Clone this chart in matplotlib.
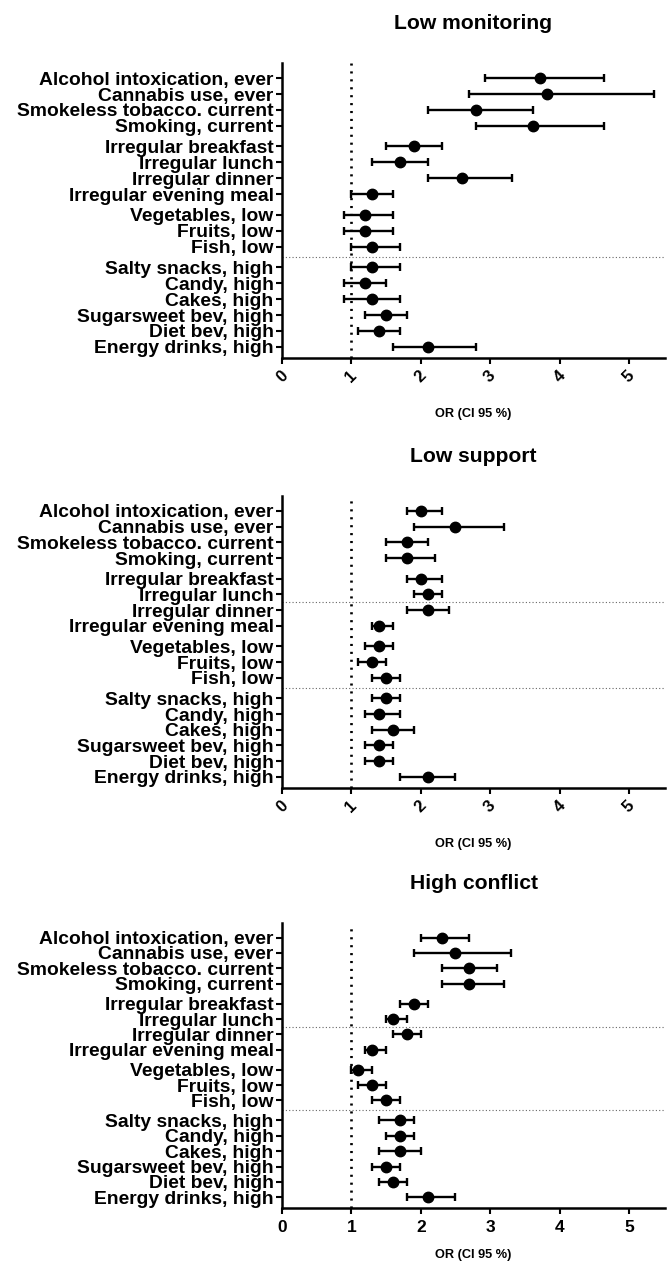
import numpy as np
import matplotlib.pyplot as plt

labels = ["Alcohol intoxication, ever", "Cannabis use, ever", "Smokeless tobacco. current",
          "Smoking, current", "Irregular breakfast", "Irregular lunch", "Irregular dinner",
          "Irregular evening meal", "Vegetables, low", "Fruits, low", "Fish, low",
          "Salty snacks, high", "Candy, high", "Cakes, high", "Sugarsweet bev, high",
          "Diet bev, high", "Energy drinks, high"]
group_sizes = [4, 4, 3, 6]

titles = ["Low monitoring", "Low support", "High conflict"]

# odds ratios and 95% CI
mon_or = [3.72, 3.82, 2.8, 3.62, 1.9, 1.7, 2.6, 1.3, 1.2, 1.2, 1.3, 1.3, 1.2, 1.3, 1.5, 1.4, 2.1]
mon_lo = [2.92, 2.7, 2.1, 2.8, 1.5, 1.3, 2.1, 1.0, 0.9, 0.9, 1.0, 1.0, 0.9, 0.9, 1.2, 1.1, 1.6]
mon_hi = [4.64, 5.36, 3.62, 4.64, 2.3, 2.1, 3.32, 1.6, 1.6, 1.6, 1.7, 1.7, 1.5, 1.7, 1.8, 1.7, 2.8]

sup_or = [2.0, 2.5, 1.8, 1.8, 2.0, 2.1, 2.1, 1.4, 1.4, 1.3, 1.5, 1.5, 1.4, 1.6, 1.4, 1.4, 2.1]
sup_lo = [1.8, 1.9, 1.5, 1.5, 1.8, 1.9, 1.8, 1.3, 1.2, 1.1, 1.3, 1.3, 1.2, 1.3, 1.2, 1.2, 1.7]
sup_hi = [2.3, 3.2, 2.1, 2.2, 2.3, 2.3, 2.4, 1.6, 1.6, 1.5, 1.7, 1.7, 1.7, 1.9, 1.6, 1.6, 2.5]

con_or = [2.3, 2.5, 2.7, 2.7, 1.9, 1.6, 1.8, 1.3, 1.1, 1.3, 1.5, 1.7, 1.7, 1.7, 1.5, 1.6, 2.1]
con_lo = [2.0, 1.9, 2.3, 2.3, 1.7, 1.5, 1.6, 1.2, 1.0, 1.1, 1.3, 1.4, 1.5, 1.4, 1.3, 1.4, 1.8]
con_hi = [2.7, 3.3, 3.1, 3.2, 2.1, 1.8, 2.0, 1.5, 1.3, 1.5, 1.7, 1.9, 1.9, 2.0, 1.7, 1.8, 2.5]

panels = [(mon_or, mon_lo, mon_hi), (sup_or, sup_lo, sup_hi), (con_or, con_lo, con_hi)]
separators = [[11.25], [5.8, 11.25], [5.8, 11.25]]

# row positions, small gap between groups
ypos = []
y = 0
for n in group_sizes:
    for i in range(n):
        ypos.append(y)
        y += 1
    y += 0.3

plt.rcParams['font.family'] = ['Liberation Sans', 'DejaVu Sans']
plt.rcParams['font.weight'] = 'bold'

W, H = 667, 1262
fig = plt.figure(figsize=(W / 100, H / 100), dpi=100)

# (top, bottom) of each axes box in pixels
boxes = [(63, 358), (496, 788), (923, 1208)]
left, right = 282, 665
xlab_off = [40, 40, 34]

for k, (vals, (top, bot)) in enumerate(zip(panels, boxes)):
    ax = fig.add_axes([left / W, 1 - bot / H, (right - left) / W, (bot - top) / H])
    o, lo, hi = [np.array(v) for v in vals]
    ax.errorbar(o, ypos, xerr=[o - lo, hi - o], fmt='o', color='black', ms=7.5,
                elinewidth=1.7, capsize=3.2, capthick=1.7, zorder=3)
    ax.axvline(1, color='black', ls=(0, (0.8, 2.2)), lw=1.9, zorder=1)
    for s in separators[k]:
        ax.axhline(s, color='#666666', ls=(0, (1, 2)), lw=0.8, zorder=1)

    ax.set_xlim(0, 5.52)
    ax.set_ylim(17.6, -0.95)
    ax.set_yticks(ypos)
    ax.set_yticklabels(labels, fontsize=13.9, fontweight='bold')
    ax.set_xticks(range(6))
    if k < 2:
        ax.set_xticklabels([str(i) for i in range(6)], rotation=45, ha='center',
                           fontsize=12, fontweight='bold')
    else:
        ax.set_xticklabels([str(i) for i in range(6)], fontsize=12.5, fontweight='bold')

    for sp in ['top', 'right']:
        ax.spines[sp].set_visible(False)
    for sp in ['left', 'bottom']:
        ax.spines[sp].set_linewidth(1.8)
    ax.tick_params(axis='both', length=4.5, width=1.5, pad=1.5)
    ax.tick_params(axis='x', pad=2.5 if k < 2 else 4)

    ax.annotate(titles[k], xy=(0.5, 1), xycoords='axes fraction', xytext=(0, 28.5),
                textcoords='offset points', ha='center', va='center',
                fontsize=15.2, fontweight='bold')
    ax.annotate("OR (CI 95 %)", xy=(0.5, 0), xycoords='axes fraction',
                xytext=(0, -xlab_off[k]), textcoords='offset points',
                ha='center', va='center', fontsize=9.2, fontweight='bold')

plt.savefig("out.png", dpi=100)
